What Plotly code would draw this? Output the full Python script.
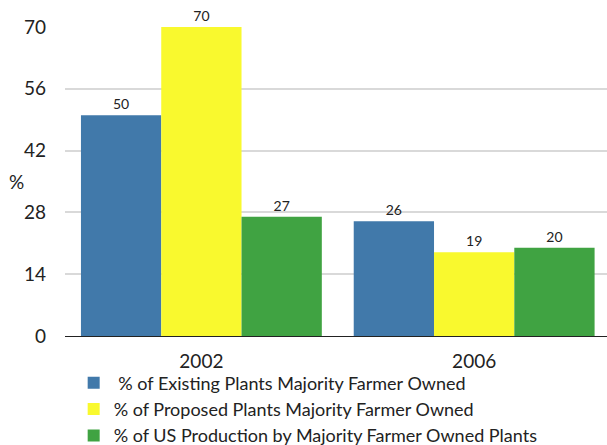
import plotly.graph_objects as go

categories = ["2002", "2006"]
series_names = [
    " % of Existing Plants Majority Farmer Owned",
    "% of Proposed Plants Majority Farmer Owned",
    "% of US Production by Majority Farmer Owned Plants",
]
existing = [50, 26]
proposed = [70, 19]
production = [27, 20]
colors = ["#4179AA", "#F9F92E", "#40A342"]
y_ticks = [0, 14, 28, 42, 56, 70]

FONT = "Lato"
fig = go.Figure()
for name, vals, col in zip(series_names, [existing, proposed, production], colors):
    fig.add_trace(go.Bar(
        x=categories, y=vals, name=name,
        marker=dict(color=col, line=dict(width=0)),
        text=[str(v) for v in vals], textposition="outside",
        textfont=dict(family=FONT, size=14, color="#222222"),
        cliponaxis=False,
    ))

fig.update_layout(
    width=607, height=445,
    margin=dict(l=65, r=0, t=27, b=109, autoexpand=False),
    paper_bgcolor="white", plot_bgcolor="white",
    barmode="group", bargap=0.117, bargroupgap=0,
    font=dict(family=FONT, color="#222222"),
    showlegend=True,
    legend=dict(
        x=0.016, xanchor="left", y=-0.092, yanchor="top",
        font=dict(family=FONT, size=18, color="#222222"),
        bgcolor="rgba(0,0,0,0)", tracegroupgap=0,
    ),
    xaxis=dict(
        type="category", range=[-0.5, 1.487],
        showline=True, linecolor="#222222", linewidth=1,
        showgrid=False, ticks="", ticklabelstandoff=8,
        tickfont=dict(family=FONT, size=19, color="#222222"),
    ),
    yaxis=dict(
        range=[0, 70], tickvals=y_ticks, ticktext=[str(t) for t in y_ticks],
        showgrid=True, gridcolor="#D9D9D9", gridwidth=1.5,
        zeroline=False, ticks="", ticklabelstandoff=18,
        tickfont=dict(family=FONT, size=19, color="#222222"),
    ),
    annotations=[dict(
        text="%", xref="paper", yref="paper", x=-0.09, y=0.5,
        xanchor="center", yanchor="middle", showarrow=False,
        font=dict(family=FONT, size=19, color="#222222"),
    )],
)

fig.write_html("out.html")
